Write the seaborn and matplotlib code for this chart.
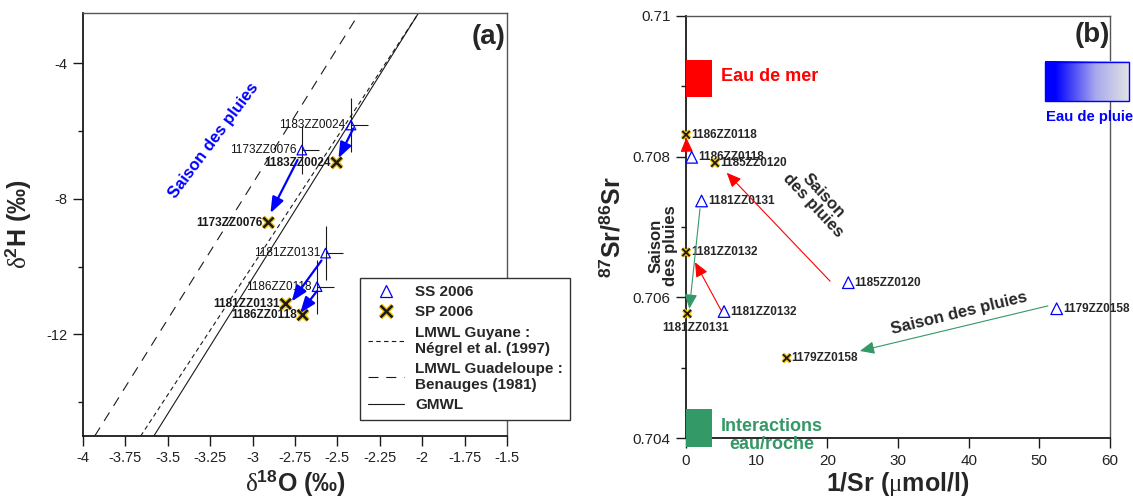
import matplotlib
matplotlib.use("Agg")
import matplotlib.pyplot as plt
import matplotlib.patheffects as pe
from matplotlib.colors import LinearSegmentedColormap
from matplotlib.lines import Line2D
from matplotlib.patches import Rectangle
from matplotlib.ticker import FuncFormatter
import numpy as np
import pandas as pd
import seaborn as sns

# ---------------- panel (a) : d18O / d2H ----------------
ss_ids_a = ["1183ZZ0024", "1173ZZ0076", "1181ZZ0131", "1186ZZ0118"]
ss_d18o = [-2.42, -2.71, -2.57, -2.62]
ss_d2h = [-5.82, -6.56, -9.60, -10.59]
ss_d18o_err = [0.1, 0.1, 0.1, 0.1]
ss_d2h_err = [0.8, 0.7, 0.8, 0.8]

sp_ids_a = ["1183ZZ0024", "1173ZZ0076", "1181ZZ0131", "1186ZZ0118"]
sp_d18o = [-2.505, -2.907, -2.805, -2.705]
sp_d2h = [-6.93, -8.70, -11.10, -11.43]

# blue arrows (start -> end)
arr_a_x0 = [-2.406, -2.735, -2.594, -2.622]
arr_a_y0 = [-5.92, -6.85, -9.82, -10.73]
arr_a_x1 = [-2.494, -2.895, -2.770, -2.720]
arr_a_y1 = [-6.80, -8.42, -11.03, -11.37]

# meteoric water lines: d2H = slope * d18O + intercept
mwl_labels = ["LMWL Guyane :\nNégrel et al. (1997)",
              "LMWL Guadeloupe :\nBenauges (1981)",
              "GMWL"]
mwl_slope = [7.62, 8.0, 8.0]
mwl_intercept = [12.89, 16.45, 13.66]

# ---------------- panel (b) : 1/Sr / 87Sr/86Sr ----------------
ss_ids_b = ["1186ZZ0118", "1185ZZ0120", "1181ZZ0131", "1181ZZ0132", "1179ZZ0158"]
ss_inv_sr = [0.8, 22.97, 2.2, 5.38, 52.45]
ss_ratio = [0.70799, 0.70621, 0.70737, 0.70580, 0.70584]

sp_ids_b = ["1186ZZ0118", "1185ZZ0120", "1181ZZ0131", "1181ZZ0132", "1179ZZ0158"]
sp_inv_sr = [0.0, 4.1, 0.18, 0.0, 14.25]
sp_ratio = [0.70831, 0.70791, 0.70577, 0.70664, 0.70514]

arr_b_x0 = [0.10, 20.4, 1.98, 4.95, 51.2]
arr_b_y0 = [0.70806, 0.70623, 0.70726, 0.70582, 0.70588]
arr_b_x1 = [0.04, 5.76, 0.47, 1.27, 24.6]
arr_b_y1 = [0.70827, 0.70777, 0.70584, 0.70650, 0.70524]
arr_b_kind = ["mer", "mer", "roche", "mer", "roche"]

box_names = ["Eau de mer", "Interactions\neau/roche", "Eau de pluie"]
box_x0 = [0.0, 0.0, 50.8]
box_x1 = [3.7, 3.7, 62.7]
box_y0 = [0.70884, 0.70388, 0.70879]
box_y1 = [0.70937, 0.70441, 0.709345]

BLUE = "#0000ff"
RED = "#ff0000"
GREEN = "#339966"
GOLD = "#f2c200"

sns.set_theme(style="ticks")
plt.rcParams["font.family"] = ["Liberation Sans", "DejaVu Sans"]
plt.rcParams["axes.unicode_minus"] = False
plt.rcParams["mathtext.fontset"] = "custom"
plt.rcParams["mathtext.rm"] = "Liberation Serif"
plt.rcParams["mathtext.it"] = "Liberation Serif:italic"
plt.rcParams["mathtext.bf"] = "Liberation Serif:bold"
plt.rcParams["mathtext.sf"] = "Liberation Sans:bold"

fig = plt.figure(figsize=(11.33, 5.01), dpi=100)
ax_a = fig.add_axes([0.0733, 0.1297, 0.3742, 0.8453])
ax_b = fig.add_axes([0.6055, 0.1251, 0.3742, 0.8435])

x_style = [pe.Stroke(linewidth=3.6, foreground=GOLD), pe.Normal()]


def style_axes(ax, labelsize):
    for side in ["left", "bottom"]:
        ax.spines[side].set_color("k")
        ax.spines[side].set_linewidth(1.3)
    for side in ["top", "right"]:
        ax.spines[side].set_color("#555555")
        ax.spines[side].set_linewidth(1.0)
    ax.tick_params(which="major", direction="out", length=7, width=1, color="k",
                   labelsize=labelsize, labelcolor="#222222", pad=4)
    ax.tick_params(which="minor", direction="out", length=3.6, width=1, color="k")
    ax.tick_params(top=False, right=False)
    ax.grid(False)


# ================= panel (a) =================
dashes = [(0, (4, 3)), (0, (9, 7)), "-"]
for lab, m, b, ls in zip(mwl_labels, mwl_slope, mwl_intercept, dashes):
    ax_a.axline((0, b), slope=m, color="k", lw=0.8, linestyle=ls, label=lab, zorder=2)

ax_a.errorbar(ss_d18o, ss_d2h, yerr=ss_d2h_err,
              xerr=[np.zeros(len(ss_d18o_err)), ss_d18o_err],
              fmt="none", ecolor="k", elinewidth=0.8, capsize=0, zorder=3)

df_ss_a = pd.DataFrame({"d18o": ss_d18o, "d2h": ss_d2h})
df_sp_a = pd.DataFrame({"d18o": sp_d18o, "d2h": sp_d2h})

sns.scatterplot(data=df_ss_a, x="d18o", y="d2h", marker="^", s=48, ax=ax_a, zorder=4)
pc = ax_a.collections[-1]
pc.set_facecolor("none")
pc.set_edgecolor(BLUE)
pc.set_linewidth(0.9)

sns.scatterplot(data=df_sp_a, x="d18o", y="d2h", marker="x", s=55, color="k",
                linewidth=1.8, ax=ax_a, zorder=5)
ax_a.collections[-1].set_path_effects(x_style)

for name, x, y in zip(ss_ids_a, ss_d18o, ss_d2h):
    ax_a.annotate(name, (x, y), xytext=(-4, 0), textcoords="offset points",
                  ha="right", va="center", fontsize=8.5, color="#111111")
for name, x, y in zip(sp_ids_a, sp_d18o, sp_d2h):
    ax_a.annotate(name, (x, y), xytext=(-4, 0), textcoords="offset points",
                  ha="right", va="center", fontsize=8.5, fontweight="bold", color="k")

for x0, y0, x1, y1 in zip(arr_a_x0, arr_a_y0, arr_a_x1, arr_a_y1):
    ax_a.annotate("", xy=(x1, y1), xytext=(x0, y0),
                  arrowprops=dict(arrowstyle="-|>,head_length=0.95,head_width=0.36",
                                  mutation_scale=10, color=BLUE, lw=1.6,
                                  shrinkA=0, shrinkB=0), zorder=6)

ax_a.text(-3.232, -6.29, "Saison des pluies", rotation=53.3, rotation_mode="anchor",
          ha="center", va="center", color=BLUE, fontsize=12, fontweight="bold")
ax_a.text(0.996, 0.972, "(a)", transform=ax_a.transAxes, ha="right", va="top",
          fontsize=20, fontweight="bold")

ax_a.set_xlim(-4, -1.5)
ax_a.set_ylim(-15, -2.5)
ax_a.set_xticks(np.arange(-4, -1.49, 0.25))
ax_a.set_yticks([-12, -8, -4])
ax_a.set_yticks([-14, -10, -6], minor=True)
ax_a.xaxis.set_major_formatter(FuncFormatter(lambda v, p: "%g" % v))
ax_a.yaxis.set_major_formatter(FuncFormatter(lambda v, p: "%g" % v))
style_axes(ax_a, 10.5)
ax_a.set_xlabel(r"$\mathrm{\delta}^{\mathsf{18}}$O (‰)", fontsize=18,
                fontweight="bold", labelpad=2)
ax_a.set_ylabel(r"$\mathrm{\delta}^{\mathsf{2}}$H (‰)", fontsize=18,
                fontweight="bold", labelpad=10)

mwl_handles = [l for l in ax_a.get_lines()]
handles = [
    Line2D([], [], ls="", marker="^", markersize=9, mfc="none", mec=BLUE, mew=0.9),
    Line2D([], [], ls="", marker="x", markersize=9, color="k", mew=1.8,
           path_effects=x_style),
] + mwl_handles
labels = ["SS 2006", "SP 2006"] + mwl_labels
leg = ax_a.legend(handles, labels, loc="upper left",
                  bbox_to_anchor=(360 / 1133, 1 - 277.7 / 501),
                  bbox_transform=fig.transFigure, borderaxespad=0,
                  frameon=True, fancybox=False, framealpha=1,
                  edgecolor="#333333", prop={"weight": "bold", "size": 11},
                  handlelength=2.4, handletextpad=0.7, labelspacing=0.4,
                  borderpad=0.5)
leg.get_frame().set_linewidth(1.0)
leg.set_zorder(10)

# ================= panel (b) =================
# end-member boxes
rain_cmap = LinearSegmentedColormap.from_list(
    "rain", [(0, BLUE), (0.12, BLUE), (0.6, "#a9a9ee"), (1, "#e4e4e4")])
for name, x0, x1, y0, y1 in zip(box_names, box_x0, box_x1, box_y0, box_y1):
    if name == "Eau de pluie":
        grad = np.linspace(0, 1, 256).reshape(1, -1)
        ax_b.imshow(grad, extent=[x0, x1, y0, y1], aspect="auto", cmap=rain_cmap,
                    clip_on=False, zorder=3, interpolation="bilinear")
        ax_b.add_patch(Rectangle((x0, y0), x1 - x0, y1 - y0, fill=False,
                                 ec=BLUE, lw=1, clip_on=False, zorder=4))
    else:
        col = RED if name == "Eau de mer" else GREEN
        ax_b.add_patch(Rectangle((x0, y0), x1 - x0, y1 - y0, color=col, lw=0,
                                 clip_on=False, zorder=3))

ax_b.text(4.9, 0.70914, "Eau de mer", color=RED, fontsize=13, fontweight="bold",
          ha="left", va="center")
ax_b.text(12.1, 0.70404, "Interactions\neau/roche", color=GREEN, fontsize=13,
          fontweight="bold", ha="center", va="center", multialignment="center",
          linespacing=1.05)
ax_b.text(50.9, 0.708566, "Eau de pluie", color=BLUE, fontsize=10.7,
          fontweight="bold", ha="left", va="center")

for x0, y0, x1, y1, k in zip(arr_b_x0, arr_b_y0, arr_b_x1, arr_b_y1, arr_b_kind):
    ax_b.annotate("", xy=(x1, y1), xytext=(x0, y0),
                  arrowprops=dict(arrowstyle="-|>,head_length=0.8,head_width=0.35",
                                  mutation_scale=11, color=RED if k == "mer" else GREEN,
                                  lw=0.8, shrinkA=0, shrinkB=0), zorder=5)

df_ss_b = pd.DataFrame({"inv_sr": ss_inv_sr, "ratio": ss_ratio})
df_sp_b = pd.DataFrame({"inv_sr": sp_inv_sr, "ratio": sp_ratio})

sns.scatterplot(data=df_ss_b, x="inv_sr", y="ratio", marker="^", s=70, ax=ax_b, zorder=6)
pc = ax_b.collections[-1]
pc.set_facecolor("none")
pc.set_edgecolor(BLUE)
pc.set_linewidth(0.9)
pc.set_clip_on(False)

sns.scatterplot(data=df_sp_b, x="inv_sr", y="ratio", marker="x", s=30, color="k",
                linewidth=1.3, ax=ax_b, zorder=7)
pc = ax_b.collections[-1]
pc.set_path_effects([pe.Stroke(linewidth=3.0, foreground=GOLD), pe.Normal()])
pc.set_clip_on(False)

for name, x, y in zip(ss_ids_b, ss_inv_sr, ss_ratio):
    ax_b.annotate(name, (x, y), xytext=(4.5, 0), textcoords="offset points",
                  ha="left", va="center", fontsize=8.5, fontweight="bold")
for name, x, y in zip(sp_ids_b, sp_inv_sr, sp_ratio):
    if name == "1181ZZ0131":
        ax_b.annotate(name, (x, y), xytext=(6, -10), textcoords="offset points",
                      ha="center", va="center", fontsize=8.5, fontweight="bold")
    else:
        ax_b.annotate(name, (x, y), xytext=(3.5, 0), textcoords="offset points",
                      ha="left", va="center", fontsize=8.5, fontweight="bold")

ax_b.text(18.7, 0.707373, "Saison\ndes pluies", rotation=-47, rotation_mode="anchor",
          ha="center", va="center", multialignment="center", fontsize=12,
          fontweight="bold", linespacing=1.0)
ax_b.text(-3.25, 0.706736, "Saison\ndes pluies", rotation=90, rotation_mode="anchor",
          ha="center", va="center", multialignment="center", fontsize=12,
          fontweight="bold", linespacing=1.0)
ax_b.text(38.6, 0.70577, "Saison des pluies", rotation=13.6, rotation_mode="anchor",
          ha="center", va="center", fontsize=12, fontweight="bold")
ax_b.text(0.999, 0.986, "(b)", transform=ax_b.transAxes, ha="right", va="top",
          fontsize=20, fontweight="bold")

ax_b.set_xlim(0, 60)
ax_b.set_ylim(0.704, 0.710)
ax_b.set_xticks(np.arange(0, 61, 10))
ax_b.set_yticks([0.704, 0.706, 0.708, 0.710])
ax_b.set_yticks([0.705, 0.707, 0.709], minor=True)
ax_b.xaxis.set_major_formatter(FuncFormatter(lambda v, p: "%g" % v))
ax_b.yaxis.set_major_formatter(FuncFormatter(lambda v, p: "%g" % round(v, 4)))
style_axes(ax_b, 11)
ax_b.set_xlabel(r"1/Sr ($\mathrm{\mu}$mol/l)", fontsize=18, fontweight="bold",
                labelpad=2)
ax_b.set_ylabel(r"$^{\mathsf{87}}$Sr/$^{\mathsf{86}}$Sr", fontsize=18,
                fontweight="bold", labelpad=6)

fig.savefig("out.png", dpi=100)
